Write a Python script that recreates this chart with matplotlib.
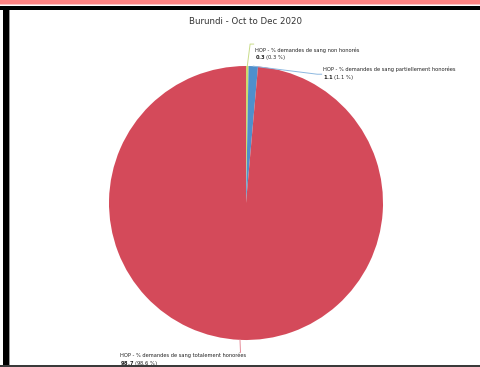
import numpy as np
import matplotlib.pyplot as plt
from matplotlib.patches import Rectangle

# Burundi blood request outcomes, Oct-Dec 2020
categories = [
    "HOP - % demandes de sang non honorés",
    "HOP - % demandes de sang partiellement honorées",
    "HOP - % demandes de sang totalement honorées",
]
values = [0.3, 1.1, 98.7]
colors = ["#cbdb6e", "#4f8fcc", "#d44a5a"]
line_colors = ["#c9dc8a", "#8db8e0", "#e58c99"]

W, H = 481, 367
fig = plt.figure(figsize=(W / 100, H / 100), dpi=100)

def px_rect(x, y, w, h, color):
    # rectangle given in pixel units, origin top-left
    fig.add_artist(Rectangle((x / W, 1 - (y + h) / H), w / W, h / H,
                             transform=fig.transFigure, color=color, lw=0))

px_rect(0, 0, W, 4, "#ff8383")
px_rect(0, 4, W, 1, "#ffc4c4")
px_rect(0, 6, W, 4, "#000000")
px_rect(3, 6, 6, H - 6, "#000000")
px_rect(9, 10, 1, H - 10, "#9a9a9a")
px_rect(0, 365, W, 2, "#3a3a3a")

cx, cy, r = 246, 203, 137
ax = fig.add_axes([(cx - r) / W, 1 - (cy + r) / H, 2 * r / W, 2 * r / H])
wedges, _ = ax.pie(values, colors=colors, startangle=90, counterclock=False,
                   wedgeprops=dict(linewidth=0))
ax.set_xlim(-1, 1)
ax.set_ylim(-1, 1)
ax.set_aspect("auto")
ax.axis("off")

fig.text(cx / W, 1 - 22 / H, "Burundi - Oct to Dec 2020", ha="center",
         va="center", fontsize=6.2, color="#333333")

total = sum(values)
# label anchor (text position) and elbow point, in pie data units
label_pos = [(0.066, 1.098), (0.562, 0.958), (-0.92, -1.132)]
elbows = [(0.03, 1.16), (0.52, 0.94), (-0.04, -1.09)]
for w, v, name, lc, (tx, ty), (ex, ey) in zip(wedges, values, categories,
                                              line_colors, label_pos, elbows):
    ang = np.deg2rad((w.theta1 + w.theta2) / 2)
    x0, y0 = np.cos(ang), np.sin(ang)
    ax.plot([x0, ex, tx - 0.01 if tx > 0 else ex], [y0, ey, ey], color=lc,
            lw=0.7, clip_on=False)
    ax.text(tx, ty, name, fontsize=3.7, color="#222222", va="bottom",
            ha="left", clip_on=False)
    ax.text(tx, ty - 0.006, r"$\bf{%.1f}$ (%.1f %%)" % (v, v / total * 100),
            fontsize=3.7, color="#222222", va="top", ha="left", clip_on=False)

fig.savefig("out.png", dpi=100)
